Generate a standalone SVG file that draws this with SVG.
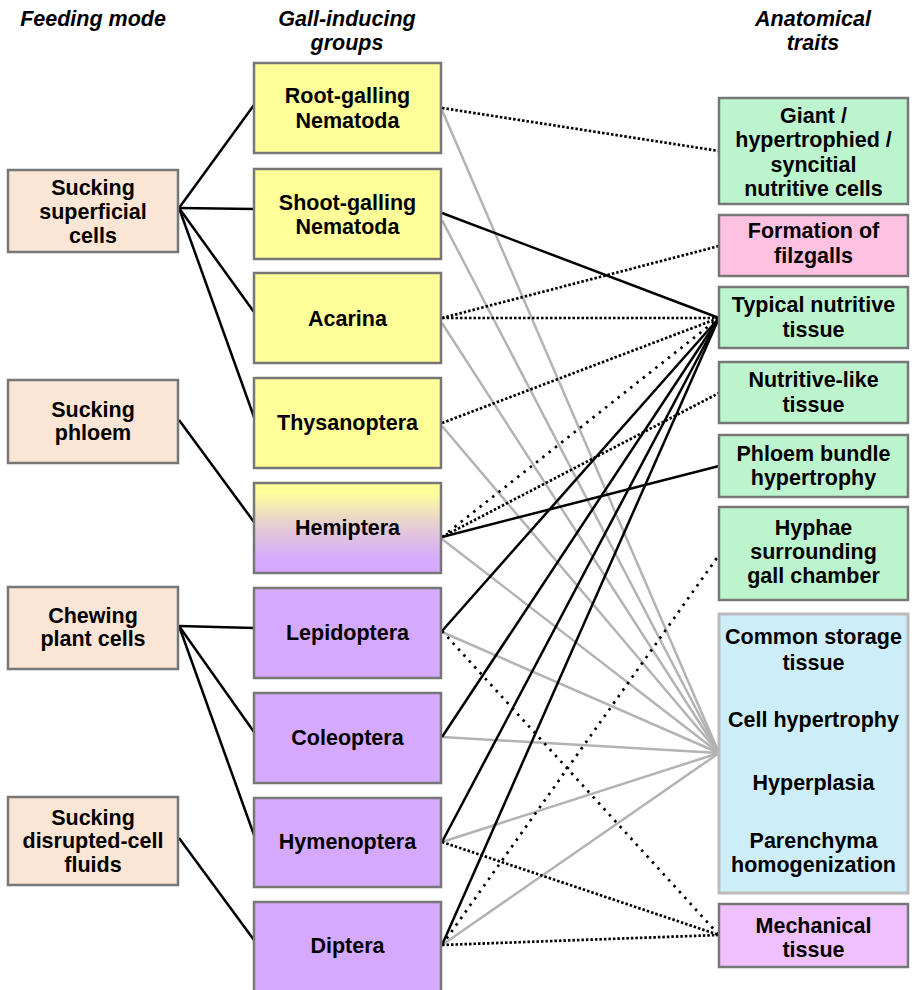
<svg xmlns="http://www.w3.org/2000/svg" width="912" height="990" viewBox="0 0 912 990">
<defs>
<linearGradient id="hemi" x1="0" y1="0" x2="0" y2="1">
<stop offset="0.1" stop-color="#ffff99"/>
<stop offset="0.45" stop-color="#e8cfd0"/>
<stop offset="0.85" stop-color="#d5aafe"/>
</linearGradient>
<style>
text{font-family:"Liberation Sans",Arial,sans-serif;font-weight:bold;font-size:21.5px;fill:#000;text-anchor:middle}
.h{font-style:italic}
.b{stroke:#777;stroke-width:2.5}
.feed{fill:#fbe5d5}
.yel{fill:#ffff99}
.pur{fill:#d5aafe}
.grn{fill:#bcf5cd}
.pnk{fill:#ffc1e1}
.blu{fill:#cdeef8;stroke:#bbb;stroke-width:3}
.mag{fill:#f0c0fd}
.k{stroke:#000;stroke-width:2.5;fill:none}
.g{stroke:#b3b3b3;stroke-width:2.5;fill:none}
.d{stroke:#000;stroke-width:2.7;stroke-dasharray:2.5 2;fill:none}
.s{stroke:#000;stroke-width:2.7;stroke-dasharray:2.5 5.5;fill:none}
</style>
</defs>
<rect width="912" height="990" fill="#fff"/>
<g id="headers">
<text class="h" x="93" y="26">Feeding mode</text>
<text class="h" x="347" y="26">Gall-inducing</text>
<text class="h" x="347" y="50">groups</text>
<text class="h" x="813" y="26">Anatomical</text>
<text class="h" x="813" y="50">traits</text>
</g>
<g id="connectors">
<g id="gray">
<line class="g" x1="442" y1="110" x2="719" y2="753"/>
<line class="g" x1="442" y1="220" x2="719" y2="753"/>
<line class="g" x1="442" y1="323" x2="719" y2="753"/>
<line class="g" x1="442" y1="426" x2="719" y2="753"/>
<line class="g" x1="442" y1="539" x2="719" y2="753"/>
<line class="g" x1="442" y1="632" x2="719" y2="753"/>
<line class="g" x1="442" y1="737" x2="719" y2="753"/>
<line class="g" x1="442" y1="842" x2="719" y2="753"/>
<line class="g" x1="442" y1="945" x2="719" y2="753"/>
</g>
<g id="dotted">
<line class="d" x1="442" y1="108" x2="719" y2="151"/>
<line class="d" x1="442" y1="318" x2="719" y2="246"/>
<line class="d" x1="442" y1="318" x2="719" y2="318"/>
<line class="d" x1="442" y1="423" x2="719" y2="318"/>
<line class="s" x1="442" y1="537" x2="719" y2="318"/>
<line class="d" x1="442" y1="537" x2="719" y2="393"/>
<line class="s" x1="442" y1="631" x2="719" y2="935"/>
<line class="d" x1="442" y1="842" x2="719" y2="935"/>
<line class="s" x1="442" y1="945" x2="719" y2="555"/>
<line class="d" x1="442" y1="945" x2="719" y2="935"/>
</g>
<g id="black">
<line class="k" x1="179" y1="208" x2="254" y2="105"/>
<line class="k" x1="179" y1="208" x2="254" y2="209"/>
<line class="k" x1="179" y1="208" x2="254" y2="312"/>
<line class="k" x1="179" y1="208" x2="254" y2="417"/>
<line class="k" x1="179" y1="420" x2="254" y2="522"/>
<line class="k" x1="179" y1="626" x2="254" y2="628"/>
<line class="k" x1="179" y1="626" x2="254" y2="732"/>
<line class="k" x1="179" y1="626" x2="254" y2="835"/>
<line class="k" x1="179" y1="838" x2="254" y2="940"/>
<line class="k" x1="442" y1="213" x2="719" y2="318"/>
<line class="k" x1="442" y1="537" x2="719" y2="466"/>
<line class="k" x1="442" y1="631" x2="719" y2="318"/>
<line class="k" x1="442" y1="737" x2="719" y2="318"/>
<line class="k" x1="442" y1="842" x2="719" y2="318"/>
<line class="k" x1="442" y1="945" x2="719" y2="318"/>
</g>
</g>
<g id="feed-superficial"><rect class="b feed" x="8" y="170" width="170" height="82"/><text x="93" y="195">Sucking</text><text x="93" y="219">superficial</text><text x="93" y="243">cells</text></g>
<g id="feed-phloem"><rect class="b feed" x="8" y="380" width="170" height="83"/><text x="93" y="417">Sucking</text><text x="93" y="440">phloem</text></g>
<g id="feed-chewing"><rect class="b feed" x="8" y="587" width="170" height="82"/><text x="93" y="623">Chewing</text><text x="93" y="646">plant cells</text></g>
<g id="feed-disrupted"><rect class="b feed" x="8" y="797" width="170" height="88"/><text x="93" y="825">Sucking</text><text x="93" y="848">disrupted-cell</text><text x="93" y="872">fluids</text></g>

<g id="grp-root"><rect class="b yel" x="254" y="63" width="187" height="90"/><text x="347.5" y="103">Root-galling</text><text x="347.5" y="128">Nematoda</text></g>
<g id="grp-shoot"><rect class="b yel" x="254" y="169" width="187" height="90"/><text x="347.5" y="210">Shoot-galling</text><text x="347.5" y="234">Nematoda</text></g>
<g id="grp-acarina"><rect class="b yel" x="254" y="273" width="187" height="90"/><text x="347.5" y="326">Acarina</text></g>
<g id="grp-thysanoptera"><rect class="b yel" x="254" y="378" width="187" height="90"/><text x="347.5" y="430">Thysanoptera</text></g>
<g id="grp-hemiptera"><rect class="b" fill="url(#hemi)" x="254" y="483" width="187" height="90"/><text x="347.5" y="535">Hemiptera</text></g>
<g id="grp-lepidoptera"><rect class="b pur" x="254" y="588" width="187" height="90"/><text x="347.5" y="640">Lepidoptera</text></g>
<g id="grp-coleoptera"><rect class="b pur" x="254" y="693" width="187" height="90"/><text x="347.5" y="745">Coleoptera</text></g>
<g id="grp-hymenoptera"><rect class="b pur" x="254" y="798" width="187" height="89"/><text x="347.5" y="849">Hymenoptera</text></g>
<g id="grp-diptera"><rect class="b pur" x="254" y="902" width="187" height="90"/><text x="347.5" y="953">Diptera</text></g>

<g id="tr-giant"><rect class="b grn" x="719" y="98" width="189" height="106"/><text x="813.5" y="123">Giant /</text><text x="813.5" y="147">hypertrophied /</text><text x="813.5" y="172">syncitial</text><text x="813.5" y="196">nutritive cells</text></g>
<g id="tr-filzgalls"><rect class="b pnk" x="719" y="215" width="189" height="61"/><text x="813.5" y="238">Formation of</text><text x="813.5" y="263">filzgalls</text></g>
<g id="tr-typical"><rect class="b grn" x="719" y="287" width="189" height="61"/><text x="813.5" y="312">Typical nutritive</text><text x="813.5" y="337">tissue</text></g>
<g id="tr-nutlike"><rect class="b grn" x="719" y="362" width="189" height="61"/><text x="813.5" y="387">Nutritive-like</text><text x="813.5" y="412">tissue</text></g>
<g id="tr-phloem"><rect class="b grn" x="719" y="435" width="189" height="62"/><text x="813.5" y="461">Phloem bundle</text><text x="813.5" y="485">hypertrophy</text></g>
<g id="tr-hyphae"><rect class="b grn" x="719" y="507" width="189" height="93"/><text x="813.5" y="535">Hyphae</text><text x="813.5" y="559">surrounding</text><text x="813.5" y="583">gall chamber</text></g>
<g id="tr-common"><rect class="blu" x="719" y="614" width="189" height="279"/><text x="813.5" y="644">Common storage</text><text x="813.5" y="670">tissue</text><text x="813.5" y="727">Cell hypertrophy</text><text x="813.5" y="790">Hyperplasia</text><text x="813.5" y="848">Parenchyma</text><text x="813.5" y="872">homogenization</text></g>
<g id="tr-mechanical"><rect class="b mag" x="719" y="904" width="189" height="63"/><text x="813.5" y="933">Mechanical</text><text x="813.5" y="957">tissue</text></g>
</svg>
